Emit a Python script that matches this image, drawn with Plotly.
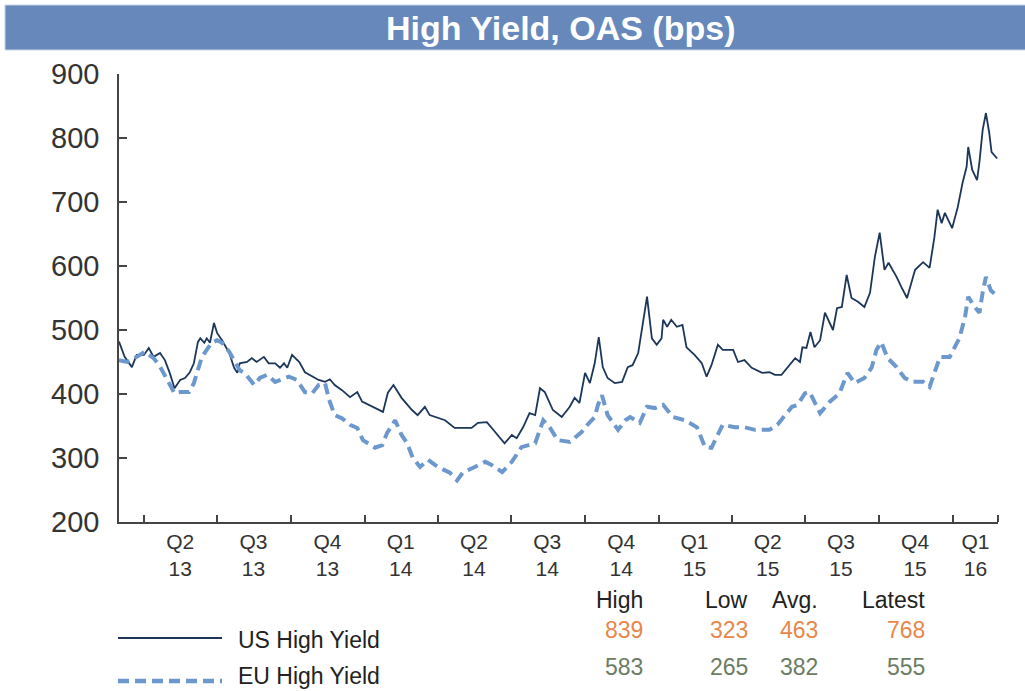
import plotly.graph_objects as go

# ---------------- data ----------------
us_dates = [
    "2013-03-01", "2013-03-08", "2013-03-17", "2013-03-23", "2013-04-01", "2013-04-07", "2013-04-13",
    "2013-04-21", "2013-04-27", "2013-05-03", "2013-05-09", "2013-05-16", "2013-05-22", "2013-05-28",
    "2013-06-02", "2013-06-07", "2013-06-10", "2013-06-15", "2013-06-18", "2013-06-22", "2013-06-27",
    "2013-07-01", "2013-07-07", "2013-07-16", "2013-07-22", "2013-07-26", "2013-07-29", "2013-08-07",
    "2013-08-13", "2013-08-19", "2013-08-28", "2013-09-03", "2013-09-11", "2013-09-17", "2013-09-22",
    "2013-09-26", "2013-10-02", "2013-10-11", "2013-10-18", "2013-10-27", "2013-11-04", "2013-11-12",
    "2013-11-18", "2013-11-24", "2013-12-03", "2013-12-13", "2013-12-22", "2013-12-28", "2014-01-13",
    "2014-01-23", "2014-01-29", "2014-02-05", "2014-02-15", "2014-02-28", "2014-03-07", "2014-03-16",
    "2014-03-22", "2014-04-10", "2014-04-22", "2014-05-13", "2014-05-21", "2014-06-01", "2014-06-11",
    "2014-06-23", "2014-07-02", "2014-07-08", "2014-07-16", "2014-07-24", "2014-07-31", "2014-08-06",
    "2014-08-12", "2014-08-22", "2014-09-02", "2014-09-12", "2014-09-18", "2014-09-24", "2014-10-01",
    "2014-10-07", "2014-10-13", "2014-10-18", "2014-10-23", "2014-10-29", "2014-11-07", "2014-11-16",
    "2014-11-23", "2014-11-29", "2014-12-06", "2014-12-11", "2014-12-17", "2014-12-23", "2014-12-29",
    "2015-01-04", "2015-01-06", "2015-01-11", "2015-01-16", "2015-01-23", "2015-01-30", "2015-02-04",
    "2015-02-14", "2015-02-23", "2015-03-01", "2015-03-07", "2015-03-15", "2015-03-21", "2015-04-03",
    "2015-04-09", "2015-04-17", "2015-04-26", "2015-05-09", "2015-05-18", "2015-05-25", "2015-06-02",
    "2015-06-10", "2015-06-19", "2015-06-25", "2015-06-28", "2015-07-03", "2015-07-08", "2015-07-13",
    "2015-07-20", "2015-07-26", "2015-08-01", "2015-08-05", "2015-08-10", "2015-08-16", "2015-08-22",
    "2015-08-28", "2015-09-05", "2015-09-13", "2015-09-20", "2015-09-26", "2015-10-02", "2015-10-08",
    "2015-10-13", "2015-10-23", "2015-10-29", "2015-11-05", "2015-11-15", "2015-11-25", "2015-12-03",
    "2015-12-09", "2015-12-13", "2015-12-18", "2015-12-22", "2015-12-31", "2016-01-07", "2016-01-13",
    "2016-01-18", "2016-01-20", "2016-01-25", "2016-01-31", "2016-02-03", "2016-02-07", "2016-02-11",
    "2016-02-15", "2016-02-18", "2016-02-25",
]
us_oas = [
    482, 458, 442, 461, 461, 472, 458,
    464, 453, 433, 409, 422, 425, 434,
    448, 481, 487, 480, 487, 480, 511,
    495, 484, 464, 441, 433, 448, 450,
    456, 450, 458, 448, 448, 441, 448,
    441, 461, 450, 434, 427, 422, 419,
    423, 414, 406, 395, 403, 388, 378,
    372, 402, 414, 394, 375, 367, 380,
    367, 359, 347, 347, 355, 356, 341,
    323, 336, 331, 348, 370, 367, 409,
    403, 375, 364, 380, 394, 386, 433,
    417, 448, 489, 442, 425, 417, 419,
    442, 445, 464, 505, 552, 487, 477,
    487, 516, 505, 516, 505, 508, 473,
    461, 448, 427, 445, 477, 469, 469,
    450, 453, 441, 433, 434, 430, 430,
    442, 456, 450, 473, 472, 497, 473,
    484, 527, 511, 500, 534, 536, 586,
    550, 544, 536, 558, 614, 652, 594,
    605, 583, 567, 550, 594, 606, 597,
    645, 688, 667, 683, 659, 692, 730,
    755, 786, 750, 734, 763, 813, 839,
    809, 778, 768,
]

eu_dates = [
    "2013-03-01", "2013-03-11", "2013-03-23", "2013-04-02", "2013-04-13", "2013-04-20", "2013-04-30",
    "2013-05-09", "2013-05-16", "2013-05-27", "2013-06-02", "2013-06-06", "2013-06-12", "2013-06-18",
    "2013-06-24", "2013-07-01", "2013-07-07", "2013-07-16", "2013-07-22", "2013-07-29", "2013-08-04",
    "2013-08-16", "2013-08-23", "2013-09-01", "2013-09-11", "2013-09-19", "2013-09-28", "2013-10-08",
    "2013-10-18", "2013-10-27", "2013-11-04", "2013-11-12", "2013-11-17", "2013-11-24", "2013-12-03",
    "2013-12-13", "2013-12-22", "2013-12-29", "2014-01-13", "2014-01-22", "2014-01-28", "2014-02-07",
    "2014-02-15", "2014-02-22", "2014-03-01", "2014-03-10", "2014-03-20", "2014-04-01", "2014-04-16",
    "2014-04-25", "2014-05-02", "2014-05-17", "2014-05-30", "2014-06-07", "2014-06-20", "2014-07-02",
    "2014-07-14", "2014-07-31", "2014-08-10", "2014-08-18", "2014-08-28", "2014-09-12", "2014-09-27",
    "2014-10-04", "2014-10-13", "2014-10-17", "2014-10-22", "2014-10-29", "2014-11-11", "2014-11-20",
    "2014-11-26", "2014-12-08", "2014-12-17", "2014-12-27", "2015-01-06", "2015-01-18", "2015-02-02",
    "2015-02-17", "2015-02-27", "2015-03-07", "2015-03-14", "2015-03-21", "2015-04-05", "2015-04-17",
    "2015-04-30", "2015-05-18", "2015-05-28", "2015-06-15", "2015-06-22", "2015-07-01", "2015-07-07",
    "2015-07-13", "2015-07-20", "2015-08-01", "2015-08-13", "2015-08-23", "2015-09-01", "2015-09-13",
    "2015-09-22", "2015-09-28", "2015-10-04", "2015-10-12", "2015-10-23", "2015-11-02", "2015-11-12",
    "2015-11-25", "2015-12-03", "2015-12-09", "2015-12-16", "2015-12-28", "2016-01-09", "2016-01-16",
    "2016-01-20", "2016-01-28", "2016-02-03", "2016-02-07", "2016-02-11", "2016-02-17", "2016-02-23",
]
eu_oas = [
    453, 450, 458, 466, 456, 445, 422,
    401, 403, 403, 417, 433, 458, 469,
    480, 484, 480, 466, 453, 437, 433,
    414, 425, 430, 419, 422, 427, 422,
    403, 401, 414, 417, 391, 367, 362,
    352, 347, 328, 316, 320, 339, 359,
    336, 323, 300, 286, 297, 286, 277,
    265, 277, 286, 294, 289, 278, 294,
    317, 323, 359, 348, 328, 325, 341,
    352, 364, 383, 398, 367, 344, 359,
    364, 355, 380, 378, 383, 364, 359,
    348, 317, 316, 333, 352, 348, 348,
    344, 344, 352, 380, 383, 401, 403,
    388, 370, 388, 401, 433, 417, 425,
    441, 469, 481, 456, 442, 425, 419,
    419, 411, 433, 458, 458, 487, 520,
    552, 536, 527, 559, 583, 562, 555,
]

quarter_starts = [
    "2013-04-01", "2013-07-01", "2013-10-01", "2014-01-01", "2014-04-01", "2014-07-01",
    "2014-10-01", "2015-01-01", "2015-04-01", "2015-07-01", "2015-10-01", "2016-01-01",
]
label_dates = [
    "2013-05-16", "2013-08-15", "2013-11-15", "2014-02-14", "2014-05-16", "2014-08-15",
    "2014-11-15", "2015-02-14", "2015-05-16", "2015-08-15", "2015-11-15", "2016-01-29",
]
tick_labels = [
    "Q2<br>13", "Q3<br>13", "Q4<br>13", "Q1<br>14", "Q2<br>14", "Q3<br>14",
    "Q4<br>14", "Q1<br>15", "Q2<br>15", "Q3<br>15", "Q4<br>15", "Q1<br>16",
]

series_names = ["US High Yield", "EU High Yield"]
stat_headers = ["High", "Low", "Avg.", "Latest"]
us_stats = ["839", "323", "463", "768"]
eu_stats = ["583", "265", "382", "555"]

# ---------------- styling ----------------
FONT = "Liberation Sans, Arial, sans-serif"
US_COLOR = "#1c365a"
EU_COLOR = "#6d98cd"
AXIS_COLOR = "#444444"
TEXT_COLOR = "#333333"
ORANGE = "#e8874a"
GREEN = "#6b7c63"

W, H = 1025, 691
L, R, T, B = 119, 27, 74, 169
PW, PH = W - L - R, H - T - B


def px(xp):
    return (xp - L) / PW


def py(yp):
    return (H - B - yp) / PH


fig = go.Figure()
fig.add_trace(go.Scatter(x=us_dates, y=us_oas, mode="lines", name=series_names[0],
                         line=dict(color=US_COLOR, width=1.8), showlegend=False))
fig.add_trace(go.Scatter(x=eu_dates, y=eu_oas, mode="lines", name=series_names[1],
                         line=dict(color=EU_COLOR, width=4, dash="11px,6px"), showlegend=False))

shapes = []
annotations = []

# title bar
shapes.append(dict(type="rect", xref="paper", yref="paper", x0=px(5), x1=px(1026), y0=py(50), y1=py(5),
                   fillcolor="#6688bb", line=dict(color="#c9d5e8", width=1), layer="below"))
annotations.append(dict(xref="paper", yref="paper", x=px(560), y=py(28), text="<b>High Yield, OAS (bps)</b>",
                        showarrow=False, xanchor="center", yanchor="middle",
                        font=dict(family=FONT, size=34, color="white")))

# legend (manual)
legend_y = [638, 681]
legend_styles = [dict(color=US_COLOR, width=1.8), dict(color=EU_COLOR, width=4.5, dash="11px,6px")]
legend_text_y = [640, 676]
for name, ly, st, ty in zip(series_names, legend_y, legend_styles, legend_text_y):
    shapes.append(dict(type="line", xref="paper", yref="paper", x0=px(118), x1=px(222), y0=py(ly), y1=py(ly),
                       line=st))
    annotations.append(dict(xref="paper", yref="paper", x=px(236), y=py(ty), text=name, showarrow=False,
                            xanchor="left", yanchor="middle", font=dict(family=FONT, size=23, color="#222222")))

# stats table
col_right = [645, 750, 820, 927]
row_y = [600, 630, 667]
for cx, hdr, us_v, eu_v in zip(col_right, stat_headers, us_stats, eu_stats):
    for txt, ry, col in ((hdr, row_y[0], "#222222"), (us_v, row_y[1], ORANGE), (eu_v, row_y[2], GREEN)):
        annotations.append(dict(xref="paper", yref="paper", x=px(cx), y=py(ry), text=txt, showarrow=False,
                                xanchor="right", yanchor="middle", font=dict(family=FONT, size=23, color=col)))

fig.update_layout(
    width=W, height=H,
    margin=dict(l=L, r=R, t=T, b=B),
    paper_bgcolor="white", plot_bgcolor="white",
    font=dict(family=FONT, color=TEXT_COLOR),
    shapes=shapes, annotations=annotations,
    showlegend=False,
)
fig.update_xaxes(
    type="date", range=["2013-03-01", "2016-02-26"],
    showline=True, linecolor=AXIS_COLOR, linewidth=1.5,
    showgrid=False, zeroline=False,
    tickmode="array", tickvals=label_dates, ticktext=tick_labels, ticks="",
    tickfont=dict(family=FONT, size=21, color=TEXT_COLOR),
    minor=dict(tickmode="array", tickvals=quarter_starts + ["2016-02-26"], ticks="inside", ticklen=7,
               tickcolor=AXIS_COLOR, tickwidth=1.5, showgrid=False),
)
fig.update_yaxes(
    range=[200, 900], dtick=100, tick0=200,
    showline=True, linecolor=AXIS_COLOR, linewidth=1.5,
    showgrid=False, zeroline=False,
    ticks="inside", ticklen=8, tickcolor=AXIS_COLOR, tickwidth=1.5,
    tickfont=dict(family=FONT, size=29, color=TEXT_COLOR),
    ticklabelstandoff=12,
)

fig.write_html("out.html", config={"displayModeBar": False})

# remove the browser's default page margin so the figure sits at the window's top-left corner
with open("out.html", "r", encoding="utf-8") as fh:
    html = fh.read()
html = html.replace("<head>", "<head><style>html,body{margin:0;padding:0;overflow:hidden;}</style>", 1)
with open("out.html", "w", encoding="utf-8") as fh:
    fh.write(html)
